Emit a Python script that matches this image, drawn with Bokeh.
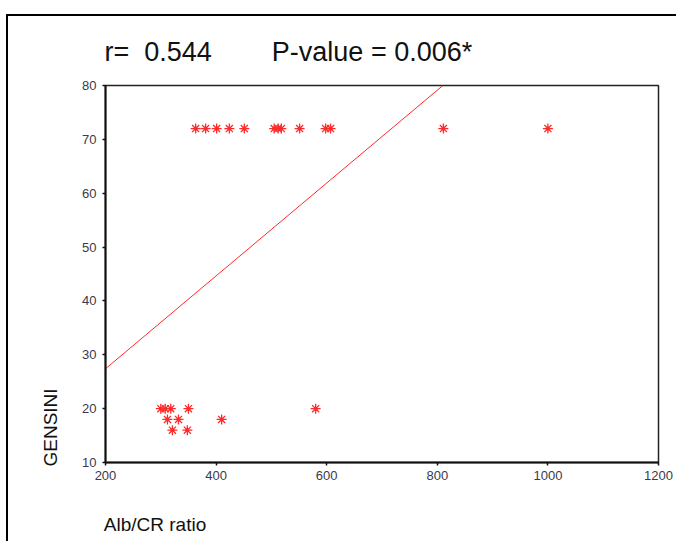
from bokeh.plotting import figure
from bokeh.models import Range1d, FixedTicker, Title
from bokeh.embed import file_html
from bokeh.resources import INLINE

# ---- data ----
upper_x = [363, 381, 401, 424, 451, 505, 512, 518, 551, 598, 607, 811, 1000]
upper_y = [72, 72, 72, 72, 72, 72, 72, 72, 72, 72, 72, 72, 72]
lower_x = [300, 308, 318, 350, 312, 332, 410, 321, 348, 580]
lower_y = [20, 20, 20, 20, 18, 18, 18, 16, 16, 20]
fit_x = [200, 810]
fit_y = [27.4, 80.0]
x_ticks = [200, 400, 600, 800, 1000, 1200]
y_ticks = [10, 20, 30, 40, 50, 60, 70, 80]
title_r = "r=  0.544"
title_p = "P-value = 0.006*"
x_label = "Alb/CR ratio"
y_label = "GENSINI"

FONT = "Liberation Sans"
RED = "#ff2a2a"
NB = "\u00a0"

title_text = title_r.replace(" ", NB) + NB * 8 + title_p.replace(" ", NB)

p = figure(width=670, height=527, output_backend="svg", toolbar_location=None,
           x_range=Range1d(200, 1200), y_range=Range1d(10, 80),
           min_border_left=97, min_border_right=20, min_border_top=68,
           min_border_bottom=81)
p.styles = {"border-top": "2px solid black", "border-left": "2px solid black",
            "margin-top": "14px", "margin-left": "6px"}

p.title.text = title_text
p.title.align = "left"
p.title.offset = -1
p.title.standoff = 37
p.title.text_font = FONT
p.title.text_font_size = "27px"
p.title.text_font_style = "normal"
p.title.text_color = "#111111"

p.grid.visible = False
p.outline_line_color = "#222222"
p.outline_line_width = 1.5
p.background_fill_color = "white"
p.border_fill_color = "white"

for ax in (p.xaxis[0], p.yaxis[0]):
    ax.axis_line_width = 2
    ax.axis_line_color = "#111111"
    ax.major_tick_line_color = "#111111"
    ax.major_tick_line_width = 1.5
    ax.major_tick_out = 3
    ax.major_tick_in = 0
    ax.minor_tick_line_color = None
    ax.major_label_text_font = FONT
    ax.major_label_text_font_size = "13px"
    ax.major_label_text_color = "#3a3a4a"

p.xaxis[0].ticker = FixedTicker(ticks=x_ticks)
p.yaxis[0].ticker = FixedTicker(ticks=y_ticks)
p.xaxis[0].major_label_standoff = 5
p.yaxis[0].major_label_standoff = 6

# x label: left-aligned under the frame (padded with no-break spaces)
p.xaxis[0].axis_label = x_label + NB * 86
p.xaxis[0].axis_label_text_font = FONT
p.xaxis[0].axis_label_text_font_size = "19px"
p.xaxis[0].axis_label_text_font_style = "normal"
p.xaxis[0].axis_label_text_color = "#111111"
p.xaxis[0].axis_label_standoff = 31

p.line(fit_x, fit_y, line_color=RED, line_width=1)
for xs, ys in ((upper_x, upper_y), (lower_x, lower_y)):
    p.scatter(xs, ys, marker="asterisk", size=10, line_color=RED, line_width=1.3)
    p.scatter(xs, ys, marker="circle", size=4, fill_color=RED, line_color=None)

p.add_layout(Title(text=y_label, align="left", offset=-4, standoff=37,
                   text_font=FONT, text_font_size="19px", text_font_style="normal",
                   text_color="#111111"), "left")

open("out.html", "w").write(file_html(p, INLINE))
